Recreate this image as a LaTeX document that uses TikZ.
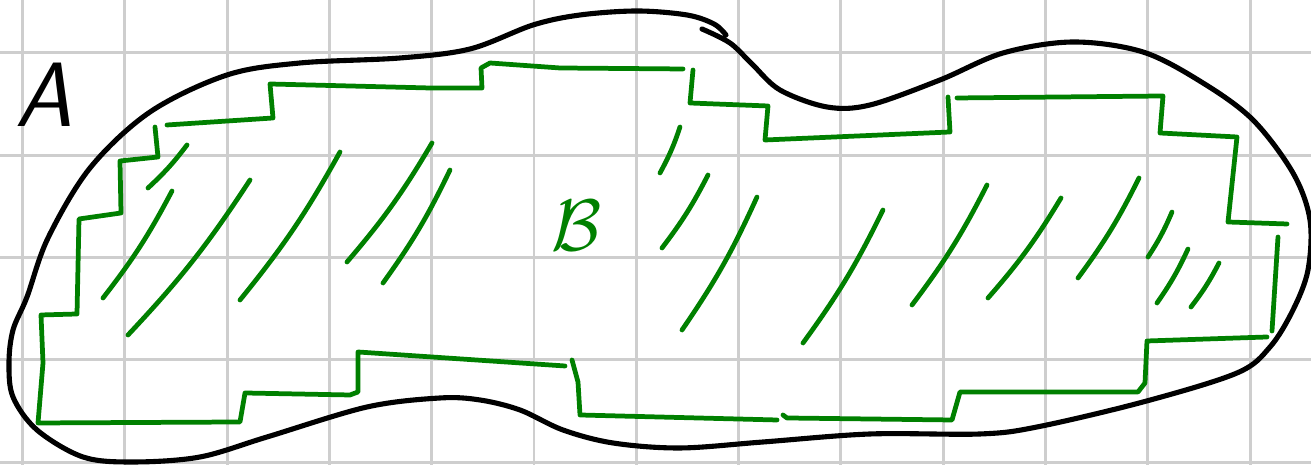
\documentclass[tikz,border=0pt]{standalone}
\usepackage{tikz}
\usetikzlibrary{positioning}
\definecolor{hatchgreen}{RGB}{0,128,0}
\definecolor{gridgray}{RGB}{206,206,206}

\begin{document}
\begin{tikzpicture}[
    x=0.01cm, y=-0.01cm,
    gridline/.style={draw=gridgray, line width=0.85pt},
    outline/.style={draw=black, line width=1.45pt, line cap=round, line join=round},
    stairs/.style={draw=hatchgreen, line width=1.35pt, line cap=round, line join=round},
    hatch/.style={draw=hatchgreen, line width=1.35pt, line cap=round},
    lettera/.style={font=\sffamily\itshape\fontsize{26}{28}\selectfont, text=black, inner sep=0pt},
    letterb/.style={font=\fontsize{20.74}{24}\selectfont, text=hatchgreen, inner sep=0pt}
]
    \useasboundingbox (0,0) rectangle (1311,465);

    % cuadricula
    \foreach \k in {0,...,12}
        \draw[gridline] ({22.5+102.3*\k},0) -- ({22.5+102.3*\k},465);
    \foreach \k in {0,...,4}
        \draw[gridline] (0,{53+102.3*\k}) -- (1311,{53+102.3*\k});

    % conjunto A
    \draw[outline] plot[smooth, tension=0.55] coordinates {
        (702,29) (730,43) (752,64) (780,90) (827,107) (870,105) (940,80)
        (1003,53) (1073,42) (1143,52) (1203,83) (1253,120) (1293,173)
        (1310,220) (1308,270) (1293,310) (1270,347) (1237,373) (1143,402)
        (1037,427) (980,434) (870,434) (763,442) (680,448) (613,443)
        (563,430) (520,410) (480,400) (440,398) (367,407) (267,437)
        (200,457) (133,462) (83,457) (37,430) (13,397) (9,363) (13,330)
        (27,297) (48,238) (90,168) (150,112) (227,75) (300,63)
        (400,58) (470,49) (533,25) (580,15) (637,11) (687,15) (714,24) (726,35)};
    \node[lettera] (labela) at (44,95) {A};

    % conjunto B (escalones)
    \draw[stairs] (155,127) -- (158,157) -- (120,161) -- (121,213) -- (79,219)
        -- (77,314) -- (41,315) -- (43,363) -- (38,423) -- (240,422)
        -- (245,393) -- (350,395) -- (358,392) -- (358,352) -- (565,366);
    \draw[stairs] (572,360) -- (578,382) -- (580,415) -- (777,420);
    \draw[stairs] (783,415) -- (787,418) -- (952,420) -- (960,392)
        -- (1138,392) -- (1145,383) -- (1147,341) -- (1267,337);
    \draw[stairs] (1278,237) -- (1272,331);
    \draw[stairs] (1287,224) -- (1228,222) -- (1237,137) -- (1160,133)
        -- (1163,96) -- (957,98);
    \draw[stairs] (948,97) -- (950,132) -- (765,140) -- (768,106)
        -- (690,103) -- (693,70);
    \draw[stairs] (683,69) -- (560,68) -- (490,63) -- (481,68) -- (482,88)
        -- (430,88) -- (270,84) -- (273,118) -- (167,125);

    % rayado
    \foreach \xa/\ya/\xb/\yb in {187/145/148/188, 172/191/103/298, 250/180/128/335,
        340/152/240/300, 432/143/347/262, 450/170/383/283,
        680/127/660/173, 708/175/662/248, 757/197/682/330, 883/210/803/343,
        987/185/912/305, 1061/198/988/298, 1139/178/1078/278,
        1172/212/1148/257, 1188/249/1157/303, 1219/263/1191/307}
        \draw[hatch] (\xa,\ya) to[bend left=5] (\xb,\yb);
    \node[letterb] (labelb) at (577,226) {$\mathcal{B}$};
\end{tikzpicture}
\end{document}
